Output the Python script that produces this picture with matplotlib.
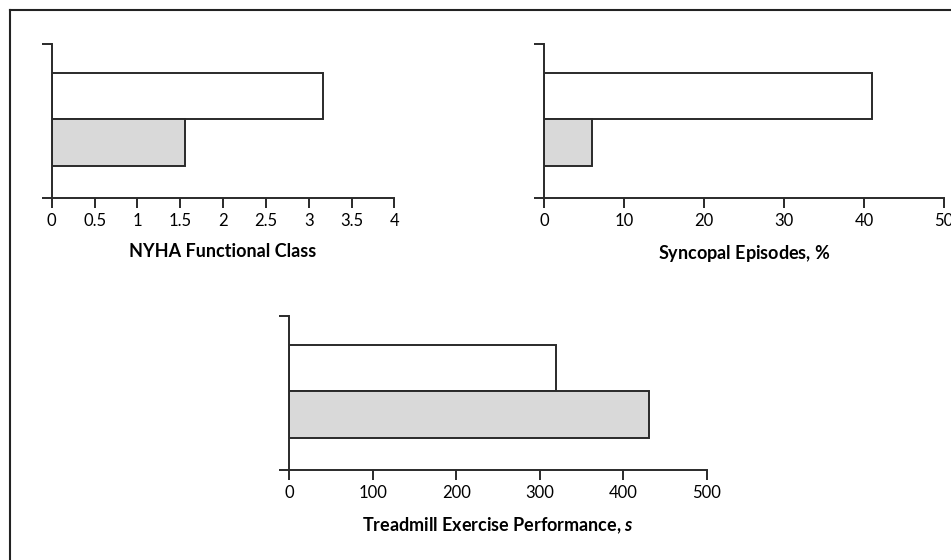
import matplotlib
matplotlib.use("Agg")
import matplotlib.pyplot as plt
from matplotlib.lines import Line2D

plt.rcParams['font.family'] = ['Lato', 'DejaVu Sans']
plt.rcParams['mathtext.fontset'] = 'custom'
plt.rcParams['mathtext.it'] = 'Lato:italic:bold'
plt.rcParams['mathtext.rm'] = 'Lato:bold'

# before (white) vs after (gray) for each measure
nyha = [3.17, 1.56]
syncope = [41, 6]
treadmill = [320, 431]

nyha_ticks = [0, 0.5, 1, 1.5, 2, 2.5, 3, 3.5, 4]
nyha_ticklabels = ["0", "0.5", "1", "1.5", "2", "2.5", "3", "3.5", "4"]
syncope_ticks = [0, 10, 20, 30, 40, 50]
treadmill_ticks = [0, 100, 200, 300, 400, 500]

labels = ["NYHA Functional Class",
          r"Syncopal Episodes, $\it{\%}$",
          r"Treadmill Exercise Performance, $\it{s}$"]

EDGE = "#2a2a2a"
FILLS = ["white", "#d9d9d9"]
YPOS = [1, 0]
YLIM = (-1.19, 2.12)


def bar_panel(ax, values, ticks, ticklabels, xlabel):
    ax.barh(YPOS, values, height=1.0, color=FILLS, edgecolor=EDGE, linewidth=1.4)
    ax.set_xlim(ticks[0], ticks[-1])
    ax.set_ylim(*YLIM)
    ax.set_xticks(ticks)
    ax.set_xticklabels(ticklabels)
    ax.set_yticks(list(YLIM))
    ax.set_yticklabels([])
    for side in ["top", "right"]:
        ax.spines[side].set_visible(False)
    for side in ["left", "bottom"]:
        ax.spines[side].set_color(EDGE)
        ax.spines[side].set_linewidth(1.4)
    ax.tick_params(axis="both", direction="out", length=7.5, width=1.4,
                   color=EDGE, labelsize=12, pad=3.5)
    ax.set_xlabel(xlabel, fontsize=13, fontweight="bold", labelpad=10)


fig = plt.figure(figsize=(9.51, 5.6), dpi=100)

ax1 = fig.add_axes([0.0544, 0.6464, 0.3603, 0.275])
bar_panel(ax1, nyha, nyha_ticks, nyha_ticklabels, labels[0])

ax2 = fig.add_axes([0.572, 0.6464, 0.4206, 0.275])
bar_panel(ax2, syncope, syncope_ticks, [str(t) for t in syncope_ticks], labels[1])

ax3 = fig.add_axes([0.3042, 0.1607, 0.4389, 0.2755])
bar_panel(ax3, treadmill, treadmill_ticks, [str(t) for t in treadmill_ticks], labels[2])

# frame along the left and top edges
fx, fy = 9.5 / 951, 1 - 9.5 / 560
fig.add_artist(Line2D([fx, fx], [0, fy], transform=fig.transFigure, color="#222222", linewidth=1.5))
fig.add_artist(Line2D([fx, 1], [fy, fy], transform=fig.transFigure, color="#222222", linewidth=1.5))

fig.savefig("out.png", dpi=100)
